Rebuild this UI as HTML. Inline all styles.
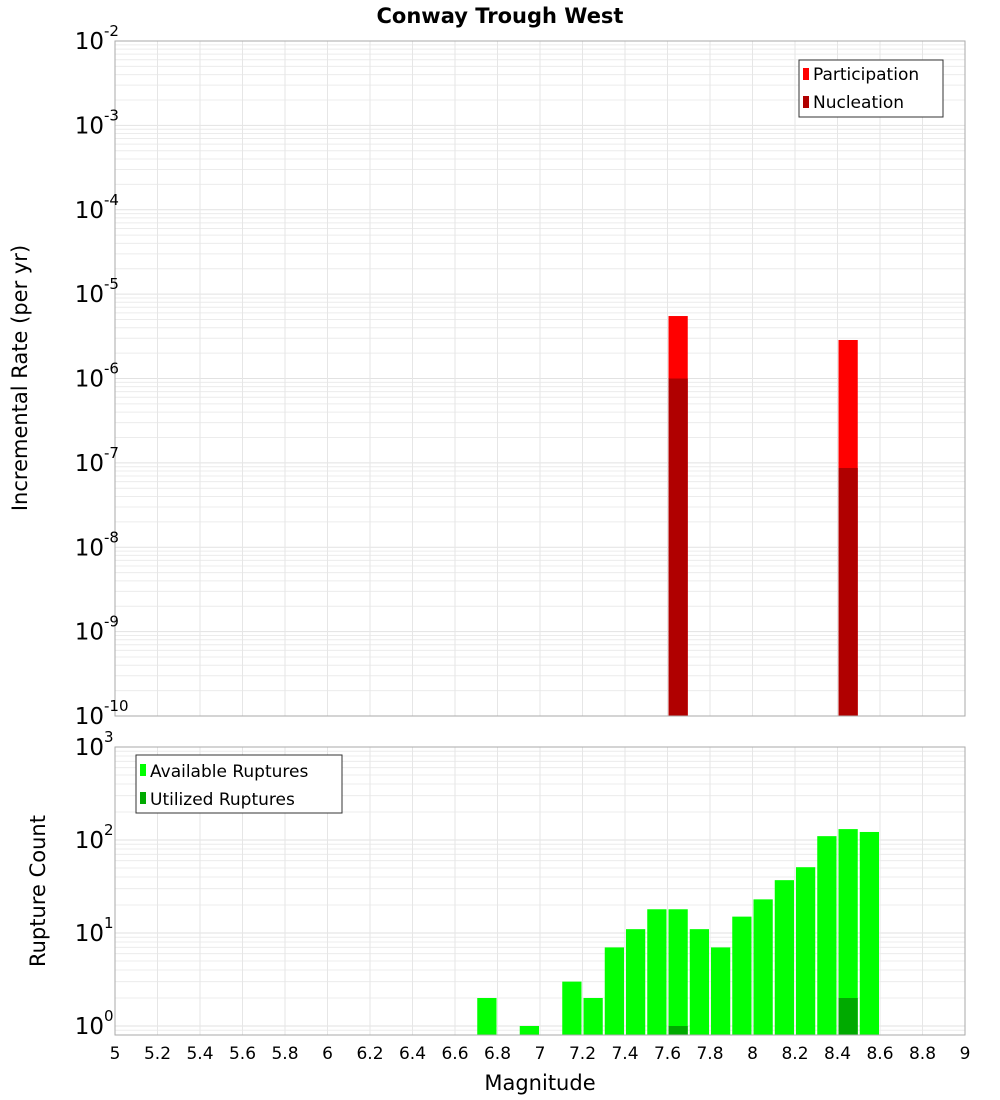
<!DOCTYPE html>
<html><head><meta charset="utf-8">
<style>
body{margin:0;background:#fff;}
svg{display:block;font-family:"DejaVu Sans","Liberation Sans",sans-serif;}
</style></head>
<body>
<svg id="chart" width="1000" height="1100" viewBox="0 0 1000 1100">
<rect width="1000" height="1100" fill="#fff"/>
<text x="500" y="23" text-anchor="middle" font-size="21" font-weight="bold">Conway Trough West</text>
<g id="topPanel"></g>
<g id="botPanel"></g>
<text transform="translate(27,378) rotate(-90)" text-anchor="middle" font-size="21">Incremental Rate (per yr)</text>
<text transform="translate(45,891) rotate(-90)" text-anchor="middle" font-size="21">Rupture Count</text>
<text x="540" y="1090" text-anchor="middle" font-size="21">Magnitude</text>
<g>
<rect x="799" y="60" width="144" height="57" fill="#fff" stroke="#333" stroke-width="1"/>
<rect x="803" y="68" width="6" height="12" fill="#ff0000"/>
<text x="813" y="80" font-size="17">Participation</text>
<rect x="803" y="96" width="6" height="12" fill="#b00000"/>
<text x="813" y="108" font-size="17">Nucleation</text>
</g>
<g>
<rect x="136" y="755" width="206" height="58" fill="#fff" stroke="#333" stroke-width="1"/>
<rect x="140" y="764" width="6" height="12" fill="#00ff00"/>
<text x="150" y="777" font-size="17">Available Ruptures</text>
<rect x="140" y="792" width="6" height="12" fill="#00aa00"/>
<text x="150" y="805" font-size="17">Utilized Ruptures</text>
</g>
</svg>
<script>
const rateMags = [7.6, 8.4];
const participation = [5.5e-6, 2.86e-6];
const nucleation = [1.0e-6, 8.7e-8];
const countMags = [6.7, 6.9, 7.1, 7.2, 7.3, 7.4, 7.5, 7.6, 7.7, 7.8, 7.9, 8.0, 8.1, 8.2, 8.3, 8.4, 8.5];
const available = [2, 1, 3, 2, 7, 11, 18, 18, 11, 7, 15, 23, 37, 51, 110, 131, 122];
const utilizedMags = [7.6, 8.4];
const utilized = [1, 2];
const xTicks = ["5","5.2","5.4","5.6","5.8","6","6.2","6.4","6.6","6.8","7","7.2","7.4","7.6","7.8","8","8.2","8.4","8.6","8.8","9"];
const rateExps = [-10,-9,-8,-7,-6,-5,-4,-3,-2];
const countExps = [0,1,2,3];

const NS = "http://www.w3.org/2000/svg";
const X0 = 115, X1 = 965;
const xs = m => X0 + (m - 5) / 4 * (X1 - X0);
const topY = v => 716 - (Math.log10(v) + 10) * 84.375;
const botY = v => 1026 - Math.log10(v) * 93;
function mk(parent, tag, attrs) {
  const e = document.createElementNS(NS, tag);
  for (const k in attrs) e.setAttribute(k, attrs[k]);
  parent.appendChild(e);
  return e;
}
function panel(g, y0, y1, yf, expLo, expHi) {
  for (let e = expLo; e < expHi; e++) {
    for (let k = 1; k <= 9; k++) {
      const yy = yf(k * Math.pow(10, e));
      if (yy < y0 || yy > y1) continue;
      const l = mk(g, "line", {x1: X0, x2: X1, y1: yy, y2: yy, stroke: k === 1 ? "#e2e2e2" : "#ececec", "stroke-width": 1});
      
      
    }
  }
  xTicks.forEach(t => {
    const xx = xs(parseFloat(t));
    const l = mk(g, "line", {x1: xx, x2: xx, y1: y0, y2: y1, stroke: "#e6e6e6", "stroke-width": 1});
    
    
  });
}
const topG = document.getElementById("topPanel");
const botG = document.getElementById("botPanel");
panel(topG, 41, 716, topY, -10, -2);
panel(botG, 747, 1035, botY, -1, 3);

rateMags.forEach((m, i) => {
  const r = mk(topG, "rect", {x: xs(m) + 1, width: xs(m + 0.1) - xs(m) - 2, y: topY(participation[i]), height: 716 - topY(participation[i]), fill: "#ff0000"});
  
  
  const n = mk(topG, "rect", {x: xs(m) + 1, width: xs(m + 0.1) - xs(m) - 2, y: topY(nucleation[i]), height: 716 - topY(nucleation[i]), fill: "#b00000"});
  
  
});
countMags.forEach((m, i) => {
  const r = mk(botG, "rect", {x: xs(m) + 1, width: xs(m + 0.1) - xs(m) - 2, y: botY(available[i]), height: 1035 - botY(available[i]), fill: "#00ff00"});
  
  
});
utilizedMags.forEach((m, i) => {
  const r = mk(botG, "rect", {x: xs(m) + 1, width: xs(m + 0.1) - xs(m) - 2, y: botY(utilized[i]), height: 1035 - botY(utilized[i]), fill: "#00aa00"});
  
  
});
const b1 = mk(topG, "rect", {x: X0, y: 41, width: X1 - X0, height: 675, fill: "none", stroke: "#aaa"});


const b2 = mk(botG, "rect", {x: X0, y: 747, width: X1 - X0, height: 288, fill: "none", stroke: "#aaa"});



function expLabel(g, e, yy, name) {
  const t = mk(g, "text", {x: 104, y: yy + 8, "text-anchor": "end", "font-size": 23});
  
  
  t.textContent = "10";
  const s = mk(g, "text", {x: 104, y: yy - 5, "text-anchor": "start", "font-size": 15});
  
  
  s.textContent = String(e);
}
rateExps.forEach(e => expLabel(topG, e, topY(Math.pow(10, e)), 'y-tick-label-rate'));
countExps.forEach(e => expLabel(botG, e, botY(Math.pow(10, e)), 'y-tick-label-count'));
xTicks.forEach(t => {
  const tx = mk(botG, "text", {x: xs(parseFloat(t)), y: 1059, "text-anchor": "middle", "font-size": 17});
  
  
  tx.textContent = t;
});
</script>
</body></html>
